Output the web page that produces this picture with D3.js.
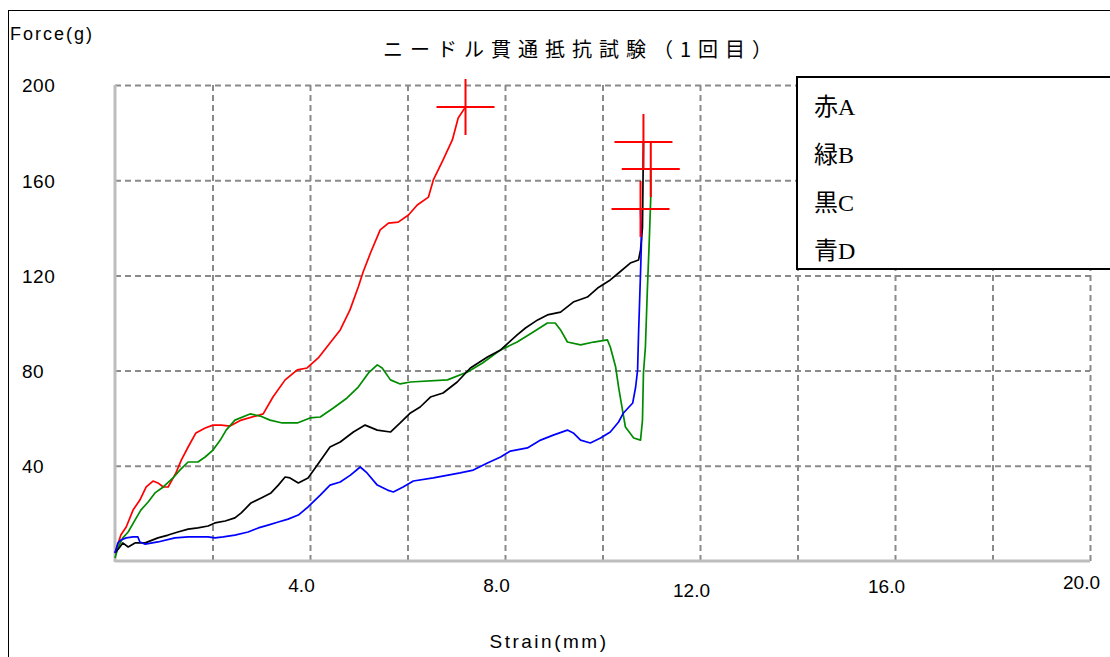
<!DOCTYPE html>
<html><head><meta charset="utf-8">
<script src="https://cdn.jsdelivr.net/npm/d3@7"></script>
<style>
html,body{margin:0;padding:0;background:#fff;}
svg{display:block;}
</style></head>
<body><svg id="chart" width="1110" height="657"></svg>
<script>
// ---- data ----
const title = "ニードル貫通抵抗試験（1回目）";
const yLabel = "Force(g)";
const xLabel = "Strain(mm)";
const xTicks = [4, 8, 12, 16, 20];
const xTickLabels = ["4.0", "8.0", "12.0", "16.0", "20.0"];
const yTicks = [40, 80, 120, 160, 200];
const legendLabels = ["赤A", "緑B", "黒C", "青D"];
const seriesNames = ["A", "B", "C", "D"];
const seriesColors = ["#ff0000", "#008c00", "#000000", "#0000ff"];

const seriesA = [[0,3.4],[0.12,10.9],[0.23,14.3],[0.37,21.4],[0.51,25.6],[0.64,31.1],[0.78,33.6],[0.88,32.8],[0.99,31.1],[1.09,31.1],[1.25,37.0],[1.36,42.4],[1.5,47.9],[1.66,53.8],[1.85,55.9],[2.01,57.1],[2.18,57.1],[2.36,56.7],[2.59,59.2],[3.04,61.8],[3.24,68.9],[3.49,76.1],[3.74,80.3],[3.94,81.1],[4.17,85.3],[4.41,91.6],[4.62,97.1],[4.82,105.5],[4.99,115.1],[5.09,121.4],[5.24,129.4],[5.44,139.1],[5.61,142.0],[5.81,142.4],[6.02,145.4],[6.2,149.6],[6.43,152.9],[6.53,160.1],[6.73,168.5],[6.92,176.9],[7.04,186.1],[7.19,190.8]];
const seriesB = [[0,1.3],[0.06,5.5],[0.16,9.7],[0.27,12.2],[0.41,17.2],[0.53,21.4],[0.68,24.8],[0.82,28.6],[0.99,31.1],[1.19,34.9],[1.33,38.2],[1.5,41.6],[1.7,41.6],[1.85,43.7],[2.01,46.6],[2.16,50.8],[2.28,55.0],[2.46,59.2],[2.77,61.8],[2.98,60.9],[3.18,59.2],[3.43,58.0],[3.74,58.0],[4.0,60.1],[4.21,60.5],[4.48,64.3],[4.76,68.5],[4.99,73.1],[5.2,79.0],[5.38,82.4],[5.48,81.1],[5.65,76.1],[5.85,74.4],[6.06,75.2],[6.82,76.1],[7.23,79.4],[7.54,83.2],[7.91,88.7],[8.25,92.0],[8.58,96.2],[8.87,100.0],[9.03,100.0],[9.14,97.1],[9.28,92.0],[9.55,90.8],[9.82,92.0],[10.1,92.9],[10.16,89.9],[10.27,81.5],[10.33,73.1],[10.41,63.4],[10.47,56.3],[10.64,51.7],[10.78,50.8],[10.82,59.2],[10.84,79.0],[10.88,89.9],[10.92,113.9],[10.96,134.9],[10.99,152.9],[10.99,164.7]];
const seriesC = [[0,3.4],[0.1,5.9],[0.16,7.6],[0.27,5.9],[0.41,7.6],[0.62,7.6],[0.88,9.7],[1.09,10.9],[1.29,12.2],[1.5,13.4],[1.7,13.9],[1.91,14.7],[2.05,16.0],[2.26,16.8],[2.46,18.1],[2.59,20.2],[2.79,24.4],[3.0,26.5],[3.2,28.6],[3.35,31.9],[3.49,35.3],[3.59,34.9],[3.76,32.8],[3.96,34.9],[4.15,40.3],[4.41,47.9],[4.62,50.0],[4.89,54.2],[5.13,57.1],[5.38,55.0],[5.65,54.2],[5.85,58.0],[6.06,62.2],[6.26,64.7],[6.47,68.9],[6.73,70.6],[7.02,75.2],[7.29,81.1],[7.64,85.7],[7.91,88.7],[8.25,95.0],[8.42,97.9],[8.67,101.3],[8.87,103.4],[9.14,104.6],[9.4,108.8],[9.69,110.9],[9.9,114.7],[10.16,118.1],[10.33,121.0],[10.57,125.2],[10.74,126.5],[10.78,130.7],[10.82,140.0],[10.84,176.1]];
const seriesD = [[0,3.4],[0.06,7.6],[0.12,8.8],[0.23,9.7],[0.37,10.1],[0.47,10.1],[0.51,8.0],[0.62,7.1],[0.88,8.0],[1.23,9.7],[1.5,10.1],[1.91,10.1],[2.05,9.7],[2.22,10.1],[2.46,10.9],[2.73,12.2],[2.94,13.9],[3.14,15.1],[3.35,16.4],[3.55,17.6],[3.76,19.3],[3.96,22.7],[4.21,27.7],[4.41,31.9],[4.62,33.2],[4.83,36.1],[5.03,39.5],[5.17,37.0],[5.38,31.9],[5.59,29.8],[5.71,29.0],[5.91,31.1],[6.12,33.6],[6.53,34.9],[7.08,37.0],[7.35,38.2],[7.64,41.2],[7.91,43.7],[8.11,46.2],[8.46,47.5],[8.73,50.8],[8.99,52.9],[9.28,55.0],[9.4,53.8],[9.55,50.8],[9.75,49.6],[9.96,51.7],[10.16,54.2],[10.33,58.4],[10.43,62.2],[10.62,66.4],[10.68,73.1],[10.72,80.3],[10.74,95.8],[10.78,121.0],[10.8,134.9],[10.78,147.9]];
const seriesData = [seriesA, seriesB, seriesC, seriesD];
// break-point markers (x, y)
const markerX = [7.19, 10.84, 10.99, 10.78];
const markerY = [190.8, 176.1, 164.7, 147.9];

// ---- drawing ----
const svg = d3.select("#chart");
const x = d3.scaleLinear().domain([0, 20]).range([115, 1090]);
const y = d3.scaleLinear().domain([0, 200]).range([561, 85]);

// outer frame
svg.append("rect").attr("x", 8.5).attr("y", 10.5).attr("width", 1120).attr("height", 680)
  .attr("fill", "none").attr("stroke", "#000").attr("stroke-width", 1);

// grid via axes
const gx = svg.append("g").attr("transform", `translate(0,${y(0)})`)
  .call(d3.axisBottom(x).tickValues(d3.range(2, 21, 2)).tickSize(-(y(0) - y(200))).tickFormat(""));
gx.select(".domain").remove();
gx.selectAll(".tick line").attr("stroke", "#8a8a8a").attr("stroke-width", 2).attr("stroke-dasharray", "6,4");

const gy = svg.append("g").attr("transform", `translate(${x(0)},0)`)
  .call(d3.axisLeft(y).tickValues(yTicks).tickSize(-(x(20) - x(0))).tickFormat(""));
gy.select(".domain").remove();
gy.selectAll(".tick line").attr("stroke", "#8a8a8a").attr("stroke-width", 2).attr("stroke-dasharray", "6,4");

// axis lines
svg.append("line").attr("x1", x(0)).attr("x2", x(0)).attr("y1", y(200)).attr("y2", y(0) + 1)
  .attr("stroke", "#bdbdbd").attr("stroke-width", 3);
svg.append("line").attr("x1", x(0)).attr("x2", x(20)).attr("y1", y(0)).attr("y2", y(0))
  .attr("stroke", "#bdbdbd").attr("stroke-width", 3);

// y tick labels
const yl = svg.append("g").attr("transform", `translate(${x(0)},0)`)
  .call(d3.axisLeft(y).tickValues(yTicks).tickSize(0).tickFormat(d3.format("d")));
yl.select(".domain").remove();
yl.selectAll("text").attr("x", -93).attr("dy", "0.36em").attr("text-anchor", "start")
  .attr("font-family", "'Liberation Sans', Arial, sans-serif").attr("font-size", 19)
  .attr("letter-spacing", 0.5).attr("fill", "#000");

// x tick labels
const xDy = [0, 0, 5, 1, -3];
const xl = svg.append("g").attr("transform", `translate(0,${y(0)})`)
  .call(d3.axisBottom(x).tickValues(xTicks).tickSize(0).tickFormat((d, i) => xTickLabels[i]));
xl.select(".domain").remove();
xl.selectAll("text").attr("x", -9).attr("y", (d, i) => 31 + xDy[i]).attr("dy", 0)
  .attr("font-family", "'Liberation Sans', Arial, sans-serif").attr("font-size", 19).attr("fill", "#000");

// series lines
const line = d3.line().x(d => x(d[0])).y(d => y(d[1]));
svg.append("g").selectAll("path").data(seriesData).join("path")
  .attr("d", line).attr("fill", "none")
  .attr("stroke", (d, i) => seriesColors[i]).attr("stroke-width", 1.7)
  .attr("stroke-linejoin", "round");

// markers (crosses)
const mk = svg.append("g");
markerX.forEach((mx, i) => {
  const cx = x(mx), cy = y(markerY[i]);
  mk.append("path")
    .attr("d", `M${cx - 29},${cy}H${cx + 29}M${cx},${cy - 28}V${cy + 28}`)
    .attr("stroke", "#ff0000").attr("stroke-width", 2).attr("fill", "none");
});

// titles
svg.append("text").attr("x", 383).attr("y", 57).text(title)
  .attr("font-family", "'Noto Sans CJK JP', sans-serif").attr("font-size", 20)
  .attr("letter-spacing", 7).attr("fill", "#000");
svg.append("text").attr("x", 10).attr("y", 40).text(yLabel)
  .attr("font-family", "'Liberation Sans', Arial, sans-serif").attr("font-size", 18)
  .attr("letter-spacing", 2).attr("fill", "#000");
svg.append("text").attr("x", 549).attr("y", 648).attr("text-anchor", "middle").text(xLabel)
  .attr("font-family", "'Liberation Sans', Arial, sans-serif").attr("font-size", 19)
  .attr("letter-spacing", 2.5).attr("fill", "#000");

// legend
const lg = svg.append("g");
lg.append("rect").attr("x", 797).attr("y", 77).attr("width", 330).attr("height", 192)
  .attr("fill", "#fff").attr("stroke", "#000").attr("stroke-width", 2);
lg.selectAll("text").data(legendLabels).join("text")
  .attr("x", 814).attr("y", (d, i) => 115 + i * 48).text(d => d)
  .attr("font-family", "'Liberation Serif', 'Noto Sans CJK JP', serif").attr("font-size", 24).attr("fill", "#000");
</script>
</body></html>
